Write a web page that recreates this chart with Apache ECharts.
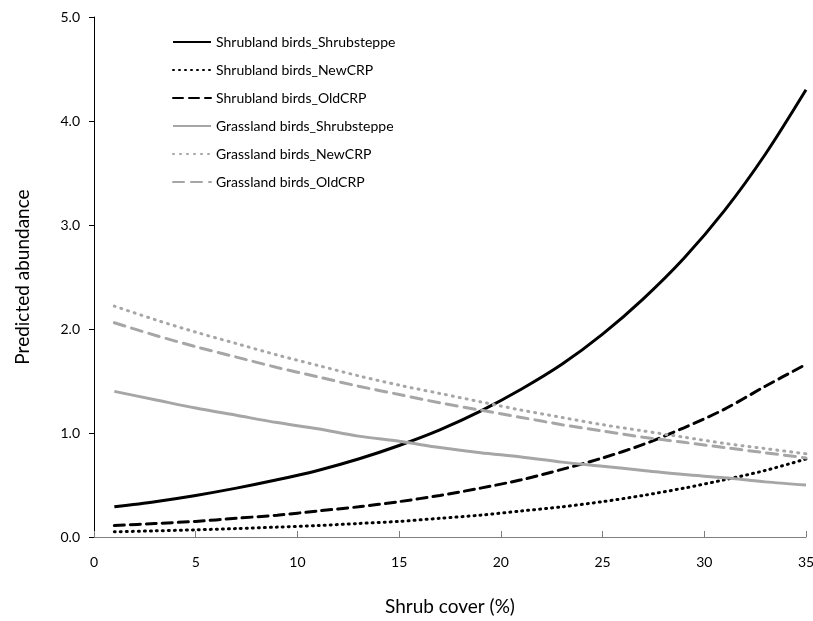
<!DOCTYPE html>
<html><head><meta charset="utf-8">
<script src="https://cdn.jsdelivr.net/npm/echarts@6/dist/echarts.min.js"></script>
<style>html,body{margin:0;padding:0;background:#fff}#c{width:813px;height:621px}</style>
</head><body><div id="c"></div>
<script>
const xs = [1,3,5,7,9,11,13,15,17,19,21,23,25,27,29,31,33,35];
const shrubShrubsteppe = [0.29,0.34,0.40,0.47,0.55,0.64,0.75,0.88,1.03,1.21,1.42,1.66,1.95,2.29,2.68,3.14,3.68,4.30];
const shrubNewCRP = [0.05,0.059,0.069,0.081,0.095,0.11,0.13,0.15,0.18,0.21,0.25,0.29,0.34,0.40,0.47,0.55,0.64,0.75];
const shrubOldCRP = [0.11,0.13,0.15,0.18,0.21,0.25,0.29,0.34,0.40,0.47,0.55,0.65,0.76,0.89,1.05,1.23,1.45,1.66];
const grassShrubsteppe = [1.40,1.32,1.24,1.17,1.10,1.04,0.97,0.92,0.86,0.81,0.77,0.72,0.68,0.64,0.60,0.57,0.53,0.50];
const grassNewCRP = [2.22,2.09,1.97,1.86,1.75,1.65,1.55,1.46,1.38,1.30,1.22,1.15,1.08,1.02,0.96,0.90,0.85,0.80];
const grassOldCRP = [2.06,1.94,1.83,1.73,1.63,1.54,1.45,1.37,1.29,1.22,1.15,1.08,1.02,0.96,0.91,0.86,0.81,0.76];
const names = ['Shrubland birds_Shrubsteppe','Shrubland birds_NewCRP','Shrubland birds_OldCRP','Grassland birds_Shrubsteppe','Grassland birds_NewCRP','Grassland birds_OldCRP'];

const FONT = 'Lato';
const BLACK = '#000000', GREY = '#a6a6a6';
function mk(name, vals, color, type) {
  return {
    name, type: 'line', data: xs.map((x,i)=>[x, vals[i]]),
    symbol: 'none', smooth: 0.3,
    lineStyle: {color, width: 3, type, cap: type === 'solid' ? 'butt' : 'round'},
    itemStyle: {color}
  };
}
const chart = echarts.init(document.getElementById('c'));
chart.setOption({
  animation: false,
  grid: {left: 94, right: 7, top: 17, bottom: 84, containLabel: false, outerBoundsMode: 'none'},
  legend: {
    orient: 'vertical', left: 167, top: 30, itemWidth: 38, itemHeight: 14, itemGap: 14,
    itemStyle: {opacity: 0},
    textStyle: {fontFamily: FONT, fontSize: 14, color: '#000', padding: [0,0,0,0]},
    data: names
  },
  xAxis: {
    type: 'value', min: 0, max: 35, interval: 5,
    name: 'Shrub cover (%)', nameLocation: 'middle', nameGap: 60,
    nameTextStyle: {fontFamily: FONT, fontSize: 19, color: '#000'},
    axisLine: {lineStyle: {color: '#7f7f7f', width: 1}},
    axisTick: {inside: true, length: 6, lineStyle: {color: '#7f7f7f'}},
    axisLabel: {fontFamily: FONT, fontSize: 14, color: '#000', margin: 18},
    splitLine: {show: false}
  },
  yAxis: {
    type: 'value', min: 0, max: 5, interval: 1,
    name: 'Predicted abundance', nameLocation: 'middle', nameGap: 62, nameRotate: 90,
    nameTextStyle: {fontFamily: FONT, fontSize: 19, color: '#000'},
    axisLine: {show: true, lineStyle: {color: '#000', width: 1}},
    axisTick: {show: true, length: 5, lineStyle: {color: '#000'}},
    axisLabel: {fontFamily: FONT, fontSize: 14, color: '#000', margin: 14, formatter: v => v.toFixed(1)},
    splitLine: {show: false}
  },
  series: [
    mk(names[0], shrubShrubsteppe, BLACK, 'solid'),
    mk(names[1], shrubNewCRP, BLACK, [1,5]),
    mk(names[2], shrubOldCRP, BLACK, [10,6]),
    mk(names[3], grassShrubsteppe, GREY, 'solid'),
    mk(names[4], grassNewCRP, GREY, [1,6]),
    mk(names[5], grassOldCRP, GREY, [11,7])
  ]
});
</script></body></html>
